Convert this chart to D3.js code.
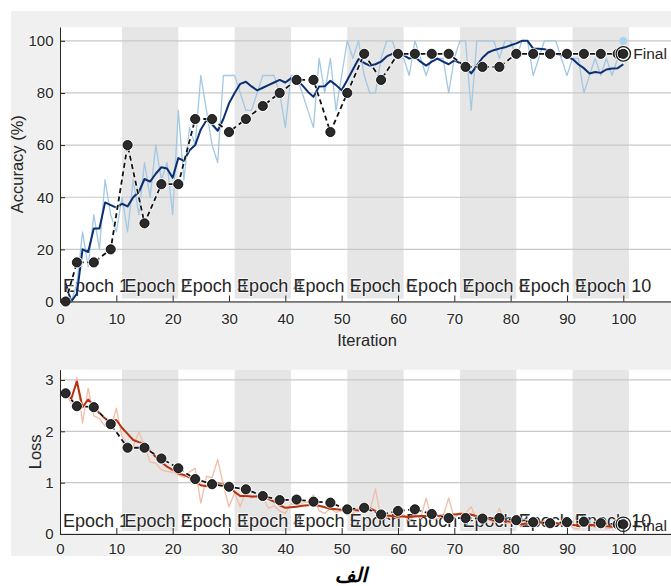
<!DOCTYPE html>
<html>
<head>
<meta charset="utf-8">
<script src="https://cdn.jsdelivr.net/npm/d3@7"></script>
<style>
  html, body { margin: 0; padding: 0; background: #ffffff; }
  svg { display: block; }
</style>
</head>
<body>
<svg id="chart" width="671" height="586"></svg>
<script>
// ---- Training progress data ----
const iterations = d3.range(1, 101);

const epochs = ["Epoch 1", "Epoch 2", "Epoch 3", "Epoch 4", "Epoch 5",
                "Epoch 6", "Epoch 7", "Epoch 8", "Epoch 9", "Epoch 10"];
const epochStart = [1, 11, 21, 31, 41, 51, 61, 71, 81, 91];
const itersPerEpoch = 10;

// mini-batch accuracy (%), raw
const trainAcc = [
  6.7, 0, 6.7, 26.7, 13.3, 33.3, 20, 46.7, 33.3, 26.7,
  40, 26.7, 46.7, 33.3, 53.3, 40, 60, 46.7, 53.3, 33.3,
  73.3, 46.7, 66.7, 60, 86.7, 73.3, 60, 53.3, 86.7, 86.7,
  86.7, 80, 73.3, 73.3, 80, 86.7, 86.7, 86.7, 80, 66.7,
  86.7, 86.7, 80, 73.3, 66.7, 93.3, 80, 93.3, 73.3, 86.7,
  100, 93.3, 100, 86.7, 80, 80, 93.3, 100, 100, 93.3,
  93.3, 86.7, 100, 93.3, 86.7, 93.3, 93.3, 93.3, 80, 93.3,
  100, 100, 73.3, 100, 100, 100, 100, 93.3, 100, 100,
  93.3, 100, 100, 86.7, 93.3, 100, 100, 100, 93.3, 86.7,
  93.3, 93.3, 80, 86.7, 93.3, 86.7, 93.3, 86.7, 93.3, 100
];
// mini-batch accuracy (%), smoothed
const trainAccSmooth = [
  7, 0, 3, 20, 19, 28, 28, 38, 37, 36,
  37.5, 36.5, 40, 42, 47, 46, 49, 51.5, 51, 47.5,
  55, 54, 58, 60, 66, 69.5, 68, 65.5, 70, 76,
  80, 83.5, 84.3, 82.5, 81, 82, 83, 84, 85, 84,
  85.6, 85, 83, 80.5, 78.5, 82.5, 82.6, 84.7, 83, 81,
  85, 89, 93, 91.5, 90.5, 91, 92, 94, 95, 95.8,
  94.5, 93.2, 93.9, 92, 90.5, 92, 93.2, 92, 91, 92.5,
  91.5, 90, 87.5, 90.5, 93.5, 95.5, 96.4, 97, 97.5, 98.3,
  99, 100, 100, 97, 97, 96.8, 96, 95, 94.5, 93.9,
  93, 91, 89.5, 87.5, 88, 87.7, 89, 89.4, 89.5, 91
];
// validation checkpoints
const valIter = [1, 3, 6, 9, 12, 15, 18, 21, 24, 27, 30, 33, 36, 39, 42, 45, 48,
                 51, 54, 57, 60, 63, 66, 69, 72, 75, 78, 81, 84, 87, 90, 93, 96, 99, 100];
const valAcc = [0, 15, 15, 20, 60, 30, 45, 45, 70, 70, 65, 70, 75, 80, 85, 85, 65,
                80, 95, 85, 95, 95, 95, 95, 90, 90, 90, 95, 95, 95, 95, 95, 95, 95, 95];

// mini-batch loss, raw
const trainLoss = [
  2.74, 2.55, 3.05, 2.16, 2.84, 2.30, 2.25, 2.10, 2.05, 2.45,
  1.90, 1.75, 1.70, 1.99, 1.72, 1.40, 1.38, 1.25, 1.22, 1.20,
  1.15, 1.10, 1.21, 1.28, 0.60, 1.12, 1.10, 1.45, 0.95, 0.53,
  0.80, 0.53, 0.85, 0.70, 0.75, 0.72, 0.50, 0.55, 0.45, 0.40,
  0.60, 0.55, 0.60, 0.62, 0.76, 0.45, 0.40, 0.50, 0.42, 0.45,
  0.48, 0.40, 0.50, 0.55, 0.45, 0.88, 0.30, 0.32, 0.35, 0.30,
  0.38, 0.25, 0.40, 0.30, 0.70, 0.28, 0.30, 0.35, 0.70, 0.30,
  0.42, 0.40, 0.53, 0.28, 0.25, 0.30, 0.22, 0.50, 0.20, 0.22,
  0.20, 0.15, 0.30, 0.25, 0.20, 0.26, 0.18, 0.22, 0.18, 0.28,
  0.12, 0.10, 0.22, 0.18, 0.12, 0.20, 0.10, 0.12, 0.18, 0.16
];
// mini-batch loss, smoothed
const trainLossSmooth = [
  2.74, 2.64, 2.97, 2.47, 2.62, 2.50, 2.35, 2.25, 2.19, 2.22,
  2.07, 1.95, 1.83, 1.79, 1.76, 1.62, 1.50, 1.40, 1.31, 1.25,
  1.18, 1.15, 1.10, 1.02, 0.95, 0.93, 0.95, 0.99, 0.96, 0.93,
  0.82, 0.74, 0.74, 0.73, 0.73, 0.73, 0.68, 0.63, 0.56, 0.51,
  0.52, 0.53, 0.55, 0.56, 0.57, 0.55, 0.52, 0.49, 0.48, 0.47,
  0.47, 0.47, 0.46, 0.48, 0.50, 0.45, 0.37, 0.36, 0.35, 0.34,
  0.34, 0.33, 0.34, 0.35, 0.35, 0.35, 0.35, 0.36, 0.37, 0.38,
  0.39, 0.39, 0.38, 0.34, 0.31, 0.29, 0.27, 0.26, 0.25, 0.24,
  0.22, 0.19, 0.21, 0.23, 0.23, 0.22, 0.22, 0.21, 0.20, 0.19,
  0.18, 0.16, 0.17, 0.18, 0.17, 0.16, 0.15, 0.14, 0.15, 0.16
];
const valLoss = [2.74, 2.49, 2.47, 2.14, 1.68, 1.68, 1.47, 1.28, 1.07, 0.97, 0.92, 0.87, 0.74, 0.66, 0.67, 0.63, 0.61,
                 0.48, 0.51, 0.38, 0.45, 0.48, 0.39, 0.31, 0.31, 0.30, 0.31, 0.27, 0.23, 0.21, 0.23, 0.24, 0.21, 0.19, 0.19];

const accTicks = [0, 20, 40, 60, 80, 100];
const lossTicks = [0, 1, 2, 3];
const iterTicks = [0, 10, 20, 30, 40, 50, 60, 70, 80, 90, 100];

// ---- Drawing ----
const svg = d3.select("#chart");
const FONT = "'Liberation Sans', Arial, Helvetica, sans-serif";
const TXT = "#262626";

// figure background
svg.append("rect").attr("x", 11).attr("y", 11).attr("width", 660).attr("height", 545)
  .attr("fill", "#f0f0f0");

const x = d3.scaleLinear().domain([0, 109]).range([60, 674]);

function panel(cfg) {
  const y = d3.scaleLinear().domain(cfg.domain).range([cfg.bottom, cfg.top]);
  const g = svg.append("g");

  // plot area
  g.append("rect").attr("x", x(0)).attr("y", cfg.top)
    .attr("width", x.range()[1] - x(0)).attr("height", cfg.bottom - cfg.top)
    .attr("fill", "#ffffff");

  // alternating epoch shading
  g.selectAll("rect.band").data(epochStart.filter((d, i) => i % 2 === 1)).join("rect")
    .attr("class", "band")
    .attr("x", d => x(d)).attr("y", cfg.top)
    .attr("width", d => x(d + itersPerEpoch) - x(d))
    .attr("height", cfg.bottom - cfg.top - 3)
    .attr("fill", "#e6e6e6");

  // horizontal grid
  g.selectAll("line.grid").data(cfg.ticks).join("line")
    .attr("class", "grid")
    .attr("x1", x(0)).attr("x2", x.range()[1])
    .attr("y1", d => y(d)).attr("y2", d => y(d))
    .attr("stroke", "#c8c8c8").attr("stroke-width", 1.2);

  // epoch labels
  g.selectAll("text.epoch").data(epochs).join("text")
    .attr("class", "epoch")
    .attr("x", (d, i) => i === 0 ? x(0) + 3 : x(epochStart[i]) + 2.5)
    .attr("y", cfg.epochBaseline)
    .attr("font-family", FONT).attr("font-size", 18).attr("fill", TXT)
    .attr("stroke", "#ffffff").attr("stroke-width", 2).attr("stroke-opacity", 0.6)
    .attr("paint-order", "stroke")
    .text(d => d);

  // raw training curve
  const line = d3.line().x((d, i) => x(iterations[i])).y(d => y(d));
  g.append("path").datum(cfg.raw).attr("d", line)
    .attr("fill", "none").attr("stroke", cfg.rawColor).attr("stroke-width", 1.3)
    .attr("stroke-linejoin", "round");

  // smoothed training curve
  g.append("path").datum(cfg.smooth).attr("d", line)
    .attr("fill", "none").attr("stroke", cfg.smoothColor).attr("stroke-width", 2)
    .attr("stroke-linejoin", "round");

  // validation curve
  const vline = d3.line().x((d, i) => x(valIter[i])).y(d => y(d));
  g.append("path").datum(cfg.val).attr("d", vline)
    .attr("fill", "none").attr("stroke", "#ffffff").attr("stroke-width", 3.6)
    .attr("stroke-dasharray", "5,3.5").attr("stroke-opacity", 0.8);
  g.append("path").datum(cfg.val).attr("d", vline)
    .attr("fill", "none").attr("stroke", "#111111").attr("stroke-width", 1.8)
    .attr("stroke-dasharray", "5,3.5");

  g.selectAll("circle.halo").data(cfg.val).join("circle")
    .attr("class", "halo")
    .attr("cx", (d, i) => x(valIter[i])).attr("cy", d => y(d)).attr("r", 5.9)
    .attr("fill", "#ffffff").attr("opacity", 0.85);
  g.selectAll("circle.val").data(cfg.val).join("circle")
    .attr("class", "val")
    .attr("cx", (d, i) => x(valIter[i])).attr("cy", d => y(d)).attr("r", 4.6)
    .attr("fill", "#2a2a2a").attr("stroke", "#000000").attr("stroke-width", 0.8);

  // final markers
  const lastIter = iterations[iterations.length - 1];
  const finalVal = cfg.val[cfg.val.length - 1];
  if (cfg.finalTrain !== undefined) {
    g.append("circle").attr("cx", x(lastIter)).attr("cy", y(cfg.finalTrain)).attr("r", 3.8)
      .attr("fill", cfg.finalTrainColor);
  }
  g.append("circle").attr("cx", x(lastIter)).attr("cy", y(finalVal)).attr("r", 7.2)
    .attr("fill", "none").attr("stroke", "#ffffff").attr("stroke-width", 3);
  g.append("circle").attr("cx", x(lastIter)).attr("cy", y(finalVal)).attr("r", 7.2)
    .attr("fill", "none").attr("stroke", "#1a1a1a").attr("stroke-width", 1.3);
  g.append("text").attr("x", x(lastIter) + 10).attr("y", y(finalVal) + cfg.finalDy)
    .attr("font-family", FONT).attr("font-size", 15.5).attr("fill", TXT)
    .attr("dominant-baseline", "middle")
    .text("Final");

  // axes
  const yAxis = d3.axisLeft(y).tickValues(cfg.ticks).tickSizeInner(-5).tickSizeOuter(0)
    .tickPadding(6.5).tickFormat(d3.format("d"));
  const ya = g.append("g").attr("transform", `translate(${x(0)},0)`).call(yAxis);
  const xAxis = d3.axisBottom(x).tickValues(iterTicks).tickSizeInner(-6).tickSizeOuter(0)
    .tickPadding(cfg.xPad).tickFormat(d3.format("d"));
  const xa = g.append("g").attr("transform", `translate(0,${cfg.bottom})`).call(xAxis);
  [ya, xa].forEach(a => {
    a.select(".domain").attr("stroke", TXT).attr("stroke-width", 1);
    a.selectAll(".tick line").attr("stroke", TXT).attr("stroke-width", 1);
    a.selectAll(".tick text").attr("font-family", FONT).attr("font-size", 15).attr("fill", TXT)
      .attr("stroke", "#ffffff").attr("stroke-width", 2).attr("stroke-opacity", 0.6)
      .attr("paint-order", "stroke");
  });

  // y label
  g.append("text")
    .attr("transform", `translate(${cfg.yLabelX},${(cfg.top + cfg.bottom) / 2}) rotate(-90)`)
    .attr("text-anchor", "middle")
    .attr("font-family", FONT).attr("font-size", 16.5).attr("fill", TXT)
    .text(cfg.yLabel);

  return y;
}

panel({
  domain: [0, 105.3], top: 27, bottom: 301.5, ticks: accTicks,
  raw: trainAcc, smooth: trainAccSmooth, val: valAcc,
  rawColor: "#a2c8e3", smoothColor: "#0b2f72",
  finalTrain: trainAcc[trainAcc.length - 1], finalTrainColor: "#a9d3ef",
  epochBaseline: 291.7, xPad: 11.5, finalDy: 1,
  yLabel: "Accuracy (%)", yLabelX: 23
});

panel({
  domain: [0, 3.2], top: 369.7, bottom: 534, ticks: lossTicks,
  raw: trainLoss, smooth: trainLossSmooth, val: valLoss,
  rawColor: "#f1bda6", smoothColor: "#b8300c",
  epochBaseline: 526.7, xPad: 9.5, finalDy: 2.5,
  yLabel: "Loss", yLabelX: 41
});

// x label of the accuracy panel
svg.append("text")
  .attr("x", (x.range()[0] + x.range()[1]) / 2).attr("y", 346)
  .attr("text-anchor", "middle")
  .attr("font-family", FONT).attr("font-size", 16.5).attr("fill", TXT)
  .text("Iteration");

// caption
svg.append("text")
  .attr("x", 351).attr("y", 582)
  .attr("text-anchor", "middle")
  .attr("font-family", "'DejaVu Sans', 'Noto Sans', sans-serif")
  .attr("font-size", 20).attr("font-weight", "bold").attr("font-style", "italic")
  .attr("fill", "#000000")
  .text("الف");
</script>
</body>
</html>
